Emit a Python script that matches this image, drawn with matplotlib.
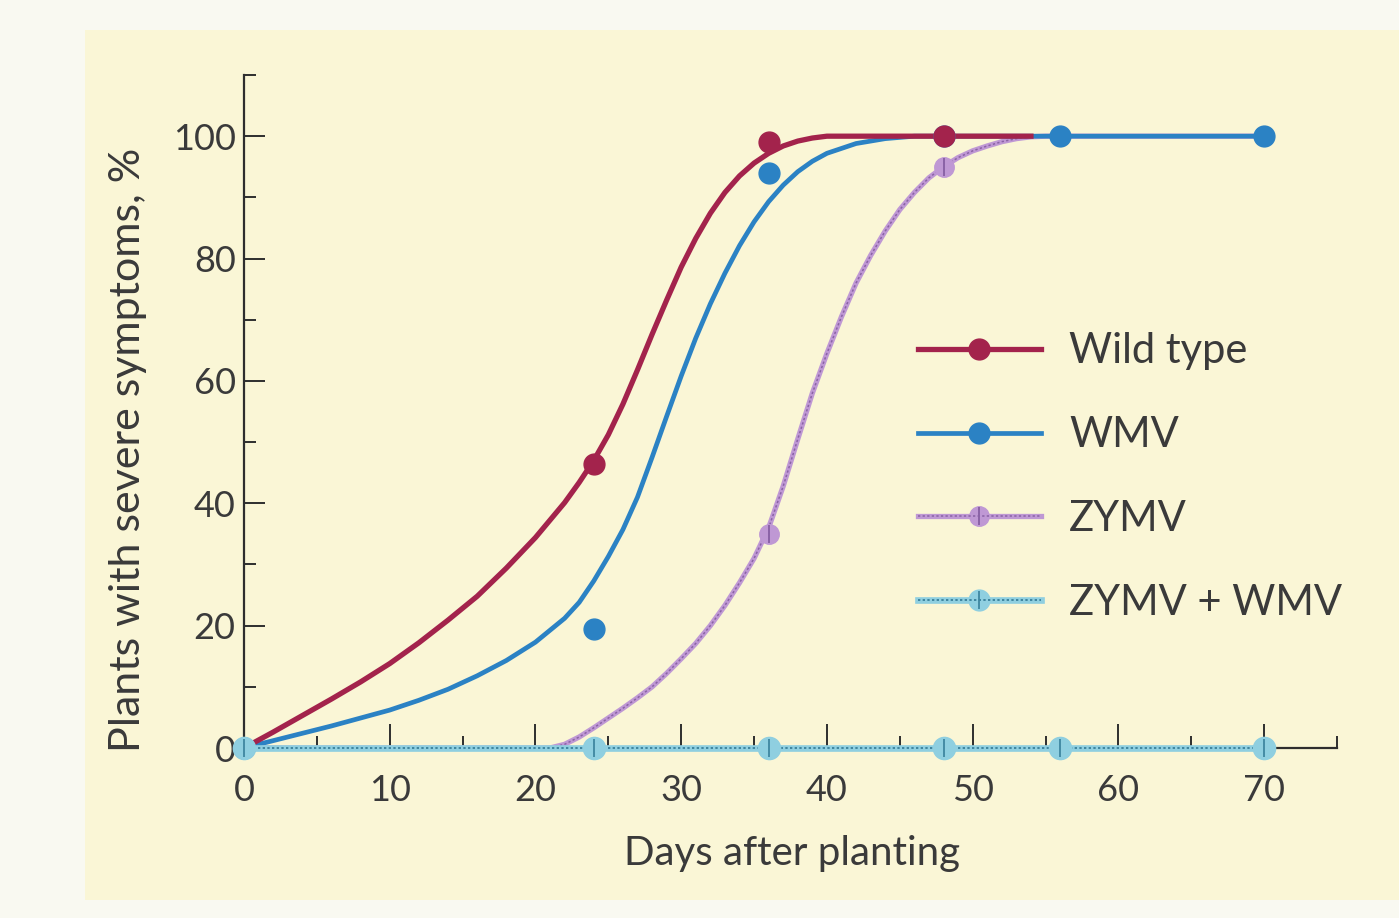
import matplotlib
matplotlib.use("Agg")
import matplotlib.pyplot as plt
from matplotlib.lines import Line2D
from matplotlib.patches import Rectangle
from matplotlib.legend_handler import HandlerTuple

# ---------------- data ----------------
labels = ["Wild type", "WMV", "ZYMV", "ZYMV + WMV"]

# observed points
wt_days = [0, 24, 36, 48]
wt_pct = [0, 46.5, 99, 100]
wmv_days = [0, 24, 36, 48, 56, 70]
wmv_pct = [0, 19.5, 94, 100, 100, 100]
zymv_days = [0, 24, 36, 48, 56, 70]
zymv_pct = [0, 0, 35, 95, 100, 100]
both_days = [0, 24, 36, 48, 56, 70]
both_pct = [0, 0, 0, 0, 0, 0]

# fitted curves
wt_curve_days = [0, 2, 4, 6, 8, 10, 12, 14, 16, 18, 20, 22, 23, 24, 25, 26, 27, 28, 29,
                 30, 31, 32, 33, 34, 35, 36, 37, 38, 39, 40, 45, 54]
wt_curve_pct = [0, 2.6, 5.3, 8.0, 10.8, 13.8, 17.2, 20.9, 24.8, 29.4, 34.4, 40.1,
                43.4, 47.0, 51.2, 56.2, 61.8, 67.6, 73.2, 78.6, 83.3, 87.4, 90.8,
                93.5, 95.6, 97.2, 98.4, 99.2, 99.7, 100, 100, 100]

wmv_curve_days = [0, 2, 4, 6, 8, 10, 12, 14, 16, 18, 20, 22, 23, 24, 25, 26, 27, 28,
                  29, 30, 31, 32, 33, 34, 35, 36, 37, 38, 39, 40, 42, 44, 46, 70]
wmv_curve_pct = [0, 1.2, 2.4, 3.6, 4.9, 6.2, 7.8, 9.6, 11.8, 14.3, 17.3, 21.2, 23.8,
                 27.3, 31.3, 35.7, 41.0, 47.5, 54.2, 60.8, 67.0, 72.6, 77.6, 82.1,
                 86.0, 89.3, 92.0, 94.2, 95.9, 97.2, 98.8, 99.6, 100, 100]

zymv_curve_days = [0, 21, 22, 23, 24, 25, 26, 27, 28, 29, 30, 31, 32, 33, 34, 35, 36,
                   37, 38, 39, 40, 41, 42, 43, 44, 45, 46, 47, 48, 49, 50, 51, 52, 53,
                   54, 55, 70]
zymv_curve_pct = [0, 0, 0.6, 1.8, 3.3, 4.9, 6.5, 8.2, 10.0, 12.2, 14.6, 17.1, 20.0,
                  23.3, 27.0, 31.0, 36.0, 42.8, 50.5, 58.0, 64.5, 70.5, 76.0, 80.5,
                  84.5, 88.0, 90.8, 93.2, 95.0, 96.5, 97.6, 98.4, 99.1, 99.6, 99.9,
                  100, 100]

both_curve_days = [0, 70]
both_curve_pct = [0, 0]

x_major = [0, 10, 20, 30, 40, 50, 60, 70]
x_minor = [5, 15, 25, 35, 45, 55, 65, 75]
y_major = [0, 20, 40, 60, 80, 100]
y_minor = [10, 30, 50, 70, 90, 110]

# ---------------- style ----------------
FONT = ["Lato", "DejaVu Sans"]
plt.rcParams["font.family"] = FONT
TXT = "#3a3a3a"
RED = "#a3234c"
BLUE = "#2b82c4"
LAV = "#bf98d4"
LAV_D = "#8a62a6"
CYAN = "#8fcfe0"
CYAN_D = "#3f86a0"

W, H = 1399, 918
fig = plt.figure(figsize=(W / 100, H / 100), dpi=100, facecolor="#f9f9f1")
fig.patches.append(Rectangle((85 / W, 18 / H), (W - 85) / W, (H - 48) / H,
                             transform=fig.transFigure, facecolor="#faf6d6",
                             edgecolor="none", zorder=-10))

x0, x1 = 244, 1337
y0, y1 = 748, 75
ax = fig.add_axes([x0 / W, 1 - y0 / H, (x1 - x0) / W, (y0 - y1) / H])
ax.set_facecolor("none")
ax.set_xlim(0, 75)
ax.set_ylim(0, 110)

for s in ["top", "right"]:
    ax.spines[s].set_visible(False)
for s in ["left", "bottom"]:
    ax.spines[s].set_color("#2e2e2e")
    ax.spines[s].set_linewidth(1.6)

ax.set_xticks(x_major)
ax.set_xticks(x_minor, minor=True)
ax.set_yticks(y_major)
ax.set_yticks(y_minor, minor=True)
ax.tick_params(axis="x", which="major", direction="in", length=17, width=1.4,
               color="#2e2e2e", labelsize=26, labelcolor=TXT, pad=19)
ax.tick_params(axis="x", which="minor", direction="in", length=9, width=1.4,
               color="#2e2e2e")
ax.tick_params(axis="y", which="major", direction="in", length=15, width=1.4,
               color="#2e2e2e", labelsize=26, labelcolor=TXT, pad=6)
ax.tick_params(axis="y", which="minor", direction="in", length=8.5, width=1.4,
               color="#2e2e2e")

# ---------------- curves ----------------
ax.plot(both_curve_days, both_curve_pct, color=CYAN, lw=4.8, zorder=6,
        clip_on=False, solid_capstyle="butt")
ax.plot(both_curve_days, both_curve_pct, color=CYAN_D, lw=1.4, zorder=6.1,
        clip_on=False, dashes=(1.2, 1.2))

ax.plot(zymv_curve_days, zymv_curve_pct, color=LAV, lw=3.8, zorder=3,
        clip_on=False)
ax.plot(zymv_curve_days, zymv_curve_pct, color=LAV_D, lw=1.1, zorder=3.1,
        clip_on=False, dashes=(1.5, 1.5))
ax.plot(wmv_curve_days, wmv_curve_pct, color=BLUE, lw=3.4, zorder=4, clip_on=False)
ax.plot(wt_curve_days, wt_curve_pct, color=RED, lw=3.8, zorder=5, clip_on=False)

# ---------------- observed points ----------------
ax.plot(zymv_days, zymv_pct, ls="none", marker="o", ms=14, color=LAV, mec=LAV,
        zorder=7, clip_on=False)
ax.plot(zymv_days, zymv_pct, ls="none", marker="|", ms=13, mew=1.4, color=LAV_D,
        zorder=7.1, clip_on=False)
ax.plot(wmv_days, wmv_pct, ls="none", marker="o", ms=15, color=BLUE, mec=BLUE,
        zorder=8, clip_on=False)
ax.plot(wt_days, wt_pct, ls="none", marker="o", ms=15, color=RED, mec=RED,
        zorder=9, clip_on=False)
ax.plot(both_days, both_pct, ls="none", marker="o", ms=16, color=CYAN, mec=CYAN,
        zorder=10, clip_on=False)
ax.plot(both_days, both_pct, ls="none", marker="|", ms=13, mew=1.3, color=CYAN_D,
        zorder=10.1, clip_on=False)

# ---------------- axis labels ----------------
fig.text(128 / W, 1 - 450 / H, "Plants with severe symptoms, %", rotation=90,
         ha="center", va="center", fontsize=31, color=TXT)
fig.text(792 / W, 1 - 853 / H, "Days after planting", ha="center", va="center",
         fontsize=29, color=TXT)

# ---------------- legend ----------------
h_wt = Line2D([], [], color=RED, lw=3.8, marker="o", ms=15, mec=RED)
h_wmv = Line2D([], [], color=BLUE, lw=3.4, marker="o", ms=15, mec=BLUE)
h_z_base = Line2D([], [], color=LAV, lw=3.8, marker="o", ms=14, mec=LAV)
h_z_tex = Line2D([], [], color=LAV_D, lw=1.1, dashes=(1.5, 1.5), marker="|", ms=13, mew=1.4)
h_b_base = Line2D([], [], color=CYAN, lw=4.8, marker="o", ms=15, mec=CYAN)
h_b_tex = Line2D([], [], color=CYAN_D, lw=1.4, dashes=(1.2, 1.2), marker="|", ms=13, mew=1.3)

leg = fig.legend([h_wt, h_wmv, (h_z_base, h_z_tex), (h_b_base, h_b_tex)], labels,
                 handler_map={tuple: HandlerTuple(ndivide=1, pad=0)},
                 loc="center left", bbox_to_anchor=(918 / W, 1 - 477 / H),
                 frameon=False, fontsize=30, handlelength=2.95, handletextpad=0.68,
                 labelspacing=1.1, borderpad=0, borderaxespad=0, labelcolor=TXT)

fig.savefig("out.png", dpi=100, facecolor=fig.get_facecolor())
